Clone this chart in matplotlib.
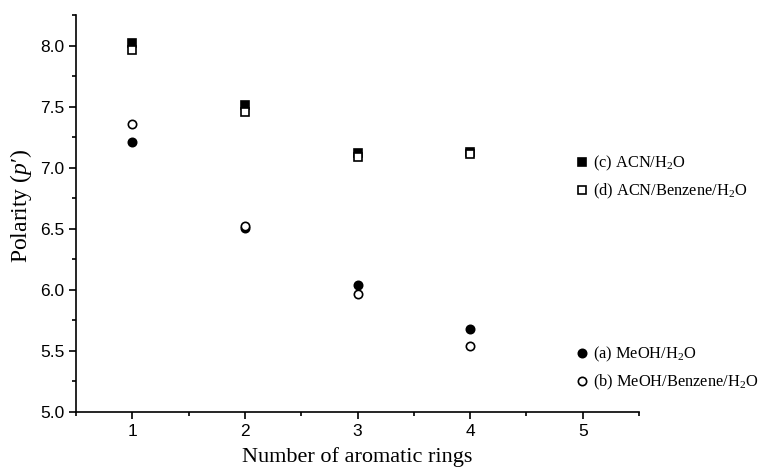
import matplotlib
matplotlib.use("Agg")
import matplotlib.pyplot as plt
from matplotlib.ticker import MultipleLocator

rings = [1, 2, 3, 4]
acn_h2o = [8.02, 7.51, 7.12, 7.13]
acn_benz_h2o = [7.96, 7.46, 7.09, 7.11]
meoh_h2o = [7.21, 6.51, 6.04, 5.68]
meoh_benz_h2o = [7.36, 6.52, 5.97, 5.54]
xticks = [1, 2, 3, 4, 5]
yticks = [5.0, 5.5, 6.0, 6.5, 7.0, 7.5, 8.0]

plt.rcParams['mathtext.fontset'] = 'custom'
plt.rcParams['mathtext.rm'] = 'Liberation Serif'
plt.rcParams['mathtext.it'] = 'Liberation Serif:italic'

fig = plt.figure(figsize=(7.6, 4.73), dpi=100)
ax = fig.add_axes([76/760, 1-412/473, (639-76)/760, (412-15)/473])

ms = 5.5
mew = 1.2
hc, = ax.plot(rings, acn_h2o, 's', color='black', ms=ms, mew=mew, linestyle='none',
              label='(c) ACN/H$_2$O')
hd, = ax.plot(rings, acn_benz_h2o, 's', mfc='white', mec='black', ms=ms, mew=mew, linestyle='none',
              label='(d) ACN/Benzene/H$_2$O')
ha, = ax.plot(rings, meoh_h2o, 'o', color='black', ms=ms+0.5, mew=mew, linestyle='none',
              label='(a) MeOH/H$_2$O')
hb, = ax.plot(rings, meoh_benz_h2o, 'o', mfc='white', mec='black', ms=ms+0.5, mew=mew, linestyle='none',
              label='(b) MeOH/Benzene/H$_2$O')

ax.set_xlim(0.5, 5.5)
ax.set_ylim(5.0, 8.25)
ax.set_xticks(xticks)
ax.set_yticks(yticks)
ax.xaxis.set_minor_locator(MultipleLocator(0.5))
ax.yaxis.set_minor_locator(MultipleLocator(0.25))
ax.yaxis.set_major_formatter(matplotlib.ticker.FormatStrFormatter('%.1f'))
for s in ['top', 'right']:
    ax.spines[s].set_visible(False)
for s in ['left', 'bottom']:
    ax.spines[s].set_linewidth(1.2)
ax.tick_params(which='major', direction='out', length=5, width=1.2, labelsize=12.5)
ax.tick_params(which='minor', direction='out', length=3, width=1.2)
for lab in ax.get_xticklabels() + ax.get_yticklabels():
    lab.set_fontfamily('Liberation Sans')

ax.set_xlabel('Number of aromatic rings', fontfamily='Liberation Serif', fontsize=16, labelpad=6)
ax.set_ylabel("Polarity ($p$\u2032)", fontfamily='Liberation Serif', fontsize=17)
ax.yaxis.set_label_coords(-0.074, 0.52)

leg_kw = dict(frameon=False, handlelength=0.5, handletextpad=0.4, labelspacing=0.55,
              borderpad=0, borderaxespad=0, prop={'family': 'Liberation Serif', 'size': 11.8})
leg1 = fig.legend(handles=[hc, hd], loc='upper left', bbox_to_anchor=(578/760, 1-154/473), **leg_kw)
leg2 = fig.legend(handles=[ha, hb], loc='upper left', bbox_to_anchor=(578/760, 1-345/473), **leg_kw)

fig.savefig('out.png', dpi=100)
